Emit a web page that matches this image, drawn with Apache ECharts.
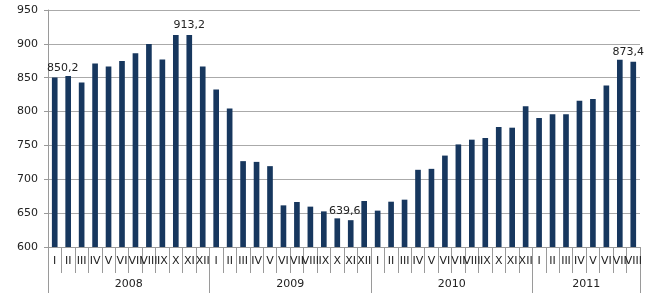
<!DOCTYPE html>
<html lang="en">
<head>
    <meta charset="UTF-8">
    <title>Monthly index 2008-2011</title>
    <script type="text/javascript" src="https://cdn.jsdelivr.net/npm/echarts@6/dist/echarts.min.js"></script>
</head>
<body style="margin:0">
<div id="main" style="width:658px;height:293px;"></div>
<script type="text/javascript">
    // month labels (roman numerals) per year
    var months = ['I','II','III','IV','V','VI','VII','VIII','IX','X','XI','XII'];
    var years = ['2008', '2009', '2010', '2011'];
    var monthsPerYear = [12, 12, 12, 8];

    var values2008 = [850.2, 852.6, 843.0, 870.9, 866.5, 874.7, 886.0, 899.7, 877.0, 913.0, 913.2, 866.5];
    var values2009 = [832.6, 804.6, 726.8, 725.7, 719.4, 661.5, 666.5, 659.6, 652.6, 642.3, 639.6, 667.9];
    var values2010 = [653.7, 666.9, 669.9, 714.0, 715.4, 735.0, 751.5, 758.5, 761.0, 777.2, 776.2, 808.0];
    var values2011 = [790.4, 795.9, 795.9, 815.9, 818.4, 838.5, 876.7, 873.4];

    // bars that carry a value label: [index, label offset x]
    var labelled = [[0, 8], [10, 0], [22, -6], [43, -5]];

    var yTicks = [600, 650, 700, 750, 800, 850, 900, 950];

    var values = values2008.concat(values2009, values2010, values2011);
    var cats = [];
    var yearStart = {};
    var yearMid = {};
    var pos = 0;
    for (var y = 0; y < years.length; y++) {
        yearStart[pos] = true;
        // label sits at the category just left of the year's middle, shifted half a slot
        yearMid[pos + monthsPerYear[y] / 2 - 1] = years[y];
        for (var m = 0; m < monthsPerYear[y]; m++) {
            cats.push(months[m]);
            pos++;
        }
    }
    yearStart[pos] = true;

    var barData = values.map(function (v, i) {
        var item = {value: v};
        labelled.forEach(function (l) {
            if (l[0] === i) {
                item.label = {
                    show: true,
                    position: 'top',
                    offset: [l[1], 0],
                    formatter: function (p) { return String(p.value).replace('.', ','); }
                };
            }
        });
        return item;
    });

    var font = 'DejaVu Sans';
    var option = {
        animation: false,
        grid: {left: 48, right: 18, top: 10, bottom: 46},
        xAxis: [
            {
                type: 'category',
                data: cats,
                axisLine: {lineStyle: {color: '#9a9a9a'}},
                axisTick: {show: true, interval: 0, length: 26, lineStyle: {color: '#9a9a9a'}},
                axisLabel: {interval: 0, hideOverlap: false, margin: 9, color: '#222', fontFamily: font, fontSize: 11}
            },
            {
                type: 'category',
                data: cats,
                position: 'bottom',
                axisLine: {show: false},
                axisTick: {
                    show: true,
                    length: 46,
                    lineStyle: {color: '#9a9a9a'},
                    interval: function (i) { return yearStart[i] === true; }
                },
                axisLabel: {
                    margin: 32,
                    color: '#222',
                    fontFamily: font,
                    fontSize: 11,
                    padding: [0, 0, 0, 13.5],
                    interval: function (i) { return yearMid[i] !== undefined; },
                    formatter: function (v, i) { return yearMid[i] || ''; }
                }
            }
        ],
        yAxis: {
            type: 'value',
            min: yTicks[0],
            max: yTicks[yTicks.length - 1],
            interval: 50,
            axisLine: {show: true, lineStyle: {color: '#9a9a9a'}},
            axisTick: {show: true, length: 4, lineStyle: {color: '#9a9a9a'}},
            axisLabel: {color: '#222', fontFamily: font, fontSize: 11, margin: 10},
            splitLine: {lineStyle: {color: '#aaaaaa'}}
        },
        series: [
            {
                type: 'bar',
                data: barData,
                barWidth: '42%',
                itemStyle: {color: '#17375e'},
                label: {color: '#222', fontFamily: font, fontSize: 11, distance: 4}
            }
        ]
    };

    var myChart = echarts.init(document.getElementById('main'));
    myChart.setOption(option);
</script>
</body>
</html>
